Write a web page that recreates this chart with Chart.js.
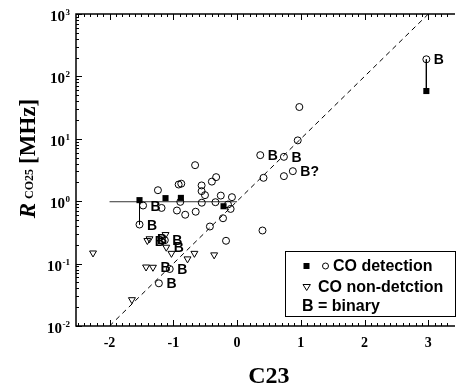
<!DOCTYPE html>
<html><head><meta charset="utf-8">
<script src="https://cdn.jsdelivr.net/npm/chart.js@4.4.1/dist/chart.umd.min.js"></script>
<style>html,body{margin:0;padding:0;background:#fff;}#wrap{width:458px;height:385px;}</style>
</head><body><div id="wrap"><canvas id="c" width="458" height="385"></canvas></div>
<script>
// ---- tick labels ----
const xTickValues = [-2, -1, 0, 1, 2, 3];
const xTickLabels = ['-2', '-1', '0', '1', '2', '3'];
const yTickExponents = [-2, -1, 0, 1, 2, 3];

// ---- CO detection, filled squares ----
const sqC23 = [-1.53, -1.122, -0.881, -0.212, 2.969];
const sqR   = [1.04, 1.12, 1.13, 0.83, 58.3];

// ---- CO detection, open circles ----
const circC23 = [-1.241, -0.916, -0.875, -0.658, -0.556, -0.556, -0.503, -0.395, -0.328, -0.255, -0.080,
                 -1.474, -1.184, -1.53, -0.890, -0.943, -0.813, -0.649, -0.553, -0.339, -0.142, -0.101,
                 -0.220, -0.426, -0.173, 0.399, 0.364, 0.735, 0.415, 0.735, 0.875, 0.952, 0.977, 2.969,
                 -1.133, -1.056, -1.226];
const circR   = [1.50, 1.85, 1.91, 3.78, 1.79, 1.45, 1.25, 2.06, 2.43, 1.23, 1.16,
                 0.853, 0.780, 0.423, 0.975, 0.709, 0.607, 0.678, 0.946, 0.964, 0.885, 0.752,
                 0.533, 0.393, 0.232, 0.339, 5.47, 5.14, 2.37, 2.52, 3.03, 9.43, 32.3, 188,
                 0.237, 0.0819, 0.0483];
const circTag = ['', '', '', '', '', '', '', '', '', '', '',
                 'B', '', 'B', '', '', '', '', '', '', '', '',
                 '', '', '', '', 'B', 'B', '', '', 'B?', '', '', 'B',
                 'B', 'B', 'B'];

// ---- CO non-detection, open down-triangles ----
const triC23 = [-2.259, -1.407, -1.373, -1.122, -1.110, -1.029, -0.777, -0.669, -0.359, -1.427, -1.319, -1.649];
const triR   = [0.148, 0.234, 0.250, 0.292, 0.183, 0.146, 0.119, 0.146, 0.138, 0.0882, 0.0873, 0.0264];
const triTag = ['', 'B', 'B', '', 'B', '', '', '', '', '', 'B', ''];

// ---- lines ----
const refLineC23 = [-2, 3];        // R = 10^C23
const refLineR   = [0.01, 1000];
const rangeC23 = [-2, 0];
const rangeR   = [0.98, 0.98];
const link1C23 = [-1.53, -1.53];
const link1R   = [1.04, 0.423];
const link2C23 = [2.969, 2.969];
const link2R   = [188, 58.3];

const pts = (xs, ys, tags) => xs.map((v, i) => ({x: v, y: ys[i], tag: tags ? tags[i] : ''}));

const SERIF = '"Liberation Serif", "Times New Roman", serif';
const SANS = '"Liberation Sans", Arial, sans-serif';

const lineDs = (xs, ys, extra) => Object.assign({
  data: pts(xs, ys), showLine: true, pointRadius: 0, borderColor: '#000', borderWidth: 1, fill: false
}, extra || {});

const axesPlugin = {
  id: 'axesPlugin',
  afterDraw(chart) {
    const {ctx, chartArea: a, scales: {x, y}} = chart;
    ctx.save();
    ctx.strokeStyle = '#000';
    // frame
    ctx.lineWidth = 1.5;
    ctx.beginPath();
    ctx.moveTo(a.right + 2, a.top); ctx.lineTo(a.left, a.top); ctx.lineTo(a.left, a.bottom); ctx.lineTo(a.right + 2, a.bottom);
    ctx.stroke();
    // x ticks (minor every 0.1)
    ctx.lineWidth = 1;
    ctx.beginPath();
    for (let i = Math.ceil(x.min * 10); i <= Math.floor(x.max * 10); i++) {
      const px = Math.round(x.getPixelForValue(i / 10)) + 0.5;
      const len = (i % 10 === 0) ? 6 : 3;
      ctx.moveTo(px, a.bottom); ctx.lineTo(px, a.bottom - len);
      ctx.moveTo(px, a.top); ctx.lineTo(px, a.top + len);
    }
    // y ticks
    for (let n = -2; n <= 3; n++) {
      for (let k = 1; k <= 9; k++) {
        if (n === 3 && k > 1) break;
        const py = Math.round(y.getPixelForValue(k * Math.pow(10, n))) + 0.5;
        const len = (k === 1) ? 6 : 3;
        ctx.moveTo(a.left, py); ctx.lineTo(a.left + len, py);
      }
    }
    ctx.stroke();
    // x tick labels
    ctx.fillStyle = '#000';
    ctx.font = 'bold 14px ' + SERIF;
    ctx.textAlign = 'center';
    ctx.textBaseline = 'alphabetic';
    xTickValues.forEach((v, i) => ctx.fillText(xTickLabels[i], x.getPixelForValue(v), a.bottom + 21));
    // y tick labels 10^n
    yTickExponents.forEach(e => {
      const py = y.getPixelForValue(Math.pow(10, e));
      const exp = String(e);
      ctx.font = 'bold 9px ' + SERIF;
      const ew = ctx.measureText(exp).width;
      const expRight = a.left - 6;
      ctx.textAlign = 'left';
      ctx.fillText(exp, expRight - ew, py + 1);
      ctx.font = 'bold 15px ' + SERIF;
      ctx.textAlign = 'right';
      ctx.fillText('10', expRight - ew - 0.5, py + 7);
    });
    // x title
    ctx.font = 'bold 24px ' + SERIF;
    ctx.textAlign = 'center';
    ctx.fillText('C23', x.getPixelForValue(0.5), 383);
    // y title (rotated)
    ctx.save();
    ctx.translate(35, 158.5);
    ctx.rotate(-Math.PI / 2);
    ctx.textAlign = 'left';
    const fR = 'italic bold 23px ' + SERIF, fS = 'bold 12px ' + SERIF, fM = 'bold 23px ' + SERIF;
    ctx.font = fR; const wR = ctx.measureText('R').width;
    ctx.font = fS; const wS = ctx.measureText('CO25').width;
    ctx.font = fM; const wM = ctx.measureText('[MHz]').width;
    const g1 = 4, g2 = 5;
    let cx = -(wR + g1 + wS + g2 + wM) / 2;
    ctx.font = fR; ctx.fillText('R', cx, 0); cx += wR + g1;
    ctx.font = fS; ctx.fillText('CO25', cx, -2); cx += wS + g2;
    ctx.font = fM; ctx.fillText('[MHz]', cx, 0);
    ctx.restore();
    // binary labels
    ctx.font = 'bold 14px ' + SANS;
    ctx.textAlign = 'left';
    chart.data.datasets.forEach((ds, di) => {
      const meta = chart.getDatasetMeta(di);
      ds.data.forEach((d, i) => {
        if (d.tag) {
          const el = meta.data[i];
          ctx.fillText(d.tag, el.x + 7.5, el.y + 5);
        }
      });
    });
    // legend
    ctx.lineWidth = 1;
    ctx.strokeRect(285.5, 251.5, 170, 65);
    ctx.fillRect(303.5, 263, 6, 6);
    ctx.beginPath(); ctx.arc(325.5, 266, 3, 0, Math.PI * 2); ctx.stroke();
    ctx.beginPath();
    ctx.moveTo(303, 284.5); ctx.lineTo(310.4, 284.5); ctx.lineTo(306.7, 290.5); ctx.closePath(); ctx.stroke();
    ctx.font = 'bold 16px ' + SANS;
    ctx.fillText('CO detection', 333, 271);
    ctx.fillText('CO non-detction', 318, 291.5);
    ctx.fillText('B = binary', 302, 310.5);
    ctx.restore();
  }
};

new Chart(document.getElementById('c'), {
  type: 'scatter',
  data: {
    datasets: [
      {label: 'CO detection (filled)', data: pts(sqC23, sqR), pointStyle: 'rect', pointRadius: 4.3,
       backgroundColor: '#000', borderColor: '#000', borderWidth: 0},
      {label: 'CO detection', data: pts(circC23, circR, circTag), pointStyle: 'circle', pointRadius: 3.5,
       backgroundColor: 'rgba(0,0,0,0)', borderColor: '#000', borderWidth: 1},
      {label: 'CO non-detection', data: pts(triC23, triR, triTag), pointStyle: 'triangle', rotation: 180, pointRadius: 4,
       backgroundColor: 'rgba(0,0,0,0)', borderColor: '#000', borderWidth: 1},
      lineDs(refLineC23, refLineR, {borderDash: [5, 4]}),
      lineDs(rangeC23, rangeR, {borderColor: '#333'}),
      lineDs(link1C23, link1R),
      lineDs(link2C23, link2R)
    ]
  },
  options: {
    responsive: false,
    animation: false,
    layout: {padding: {left: 76, top: 14, right: 0, bottom: 59}},
    scales: {
      x: {type: 'linear', min: -2.526, max: 3.387, display: false},
      y: {type: 'logarithmic', min: 0.01, max: 1000, display: false}
    },
    plugins: {legend: {display: false}, tooltip: {enabled: false}}
  },
  plugins: [axesPlugin]
});
</script>
</body></html>
